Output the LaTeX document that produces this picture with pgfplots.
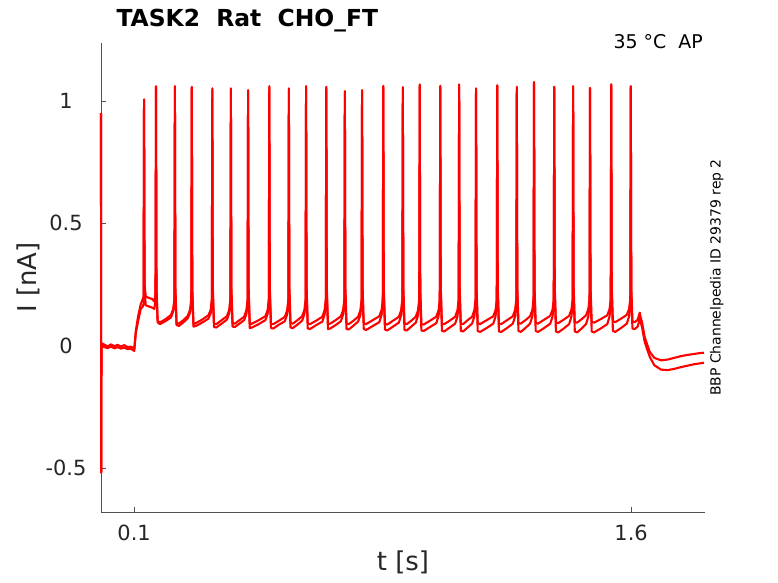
\documentclass[border=0pt]{standalone}
\usepackage{fontspec}
\setmainfont{DejaVu Sans}
\usepackage{pgfplots}
\pgfplotsset{compat=1.18}
\usepackage{pgfplotstable}
\definecolor{axgray}{HTML}{262626}
\pgfplotstableread{
t u l
0.0000 0.95 0.95
0.0006 -0.52 -0.52
0.0016 0.010 0.000
0.0100 0.004 -0.006
0.0200 -0.003 -0.010
0.0300 0.005 -0.004
0.0400 -0.002 -0.011
0.0500 0.003 -0.006
0.0600 -0.004 -0.012
0.0700 0.002 -0.008
0.0800 -0.006 -0.014
0.0900 -0.004 -0.013
0.0990 -0.010 -0.020
0.1005 -0.012 -0.022
0.1050 0.060 0.050
0.1120 0.120 0.100
0.1200 0.170 0.150
0.1260 0.190 0.160
0.1285 0.200 0.170
0.1300 1.007 1.000
0.1315 0.250 0.230
0.1350 0.200 0.165
0.1450 0.195 0.160
0.1550 0.190 0.155
0.1610 0.180 0.150
0.1645 0.210 0.190
0.1660 1.061 1.055
0.1675 0.24 0.22
0.1710 0.100 0.095
0.1780 0.095 0.088
0.1945 0.108 0.100
0.2110 0.125 0.115
0.2180 0.150 0.140
0.2215 0.19 0.18
0.2230 1.061 1.055
0.2245 0.24 0.22
0.2280 0.092 0.085
0.2350 0.090 0.080
0.2485 0.104 0.095
0.2620 0.122 0.112
0.2690 0.148 0.135
0.2725 0.19 0.18
0.2740 1.058 1.05
0.2755 0.24 0.22
0.2790 0.088 0.078
0.2860 0.092 0.080
0.3050 0.106 0.094
0.3240 0.124 0.110
0.3310 0.145 0.132
0.3345 0.19 0.18
0.3360 1.052 1.045
0.3375 0.24 0.22
0.3410 0.090 0.076
0.3480 0.088 0.074
0.3640 0.104 0.090
0.3800 0.120 0.106
0.3870 0.146 0.132
0.3905 0.19 0.18
0.3920 1.052 1.045
0.3935 0.24 0.22
0.3970 0.092 0.078
0.4040 0.090 0.076
0.4180 0.104 0.090
0.4320 0.118 0.104
0.4390 0.145 0.130
0.4425 0.19 0.18
0.4440 1.045 1.04
0.4455 0.24 0.22
0.4490 0.088 0.072
0.4560 0.090 0.074
0.4760 0.104 0.088
0.4960 0.120 0.104
0.5030 0.145 0.130
0.5065 0.19 0.18
0.5080 1.061 1.055
0.5095 0.24 0.22
0.5130 0.090 0.072
0.5200 0.088 0.070
0.5375 0.102 0.086
0.5550 0.118 0.100
0.5620 0.145 0.128
0.5655 0.19 0.18
0.5670 1.052 1.045
0.5685 0.24 0.22
0.5720 0.092 0.074
0.5790 0.090 0.072
0.5930 0.104 0.086
0.6070 0.120 0.102
0.6140 0.146 0.130
0.6175 0.19 0.18
0.6190 1.061 1.055
0.6205 0.24 0.22
0.6240 0.090 0.070
0.6310 0.088 0.068
0.6495 0.102 0.084
0.6680 0.118 0.098
0.6750 0.145 0.128
0.6785 0.19 0.18
0.6800 1.058 1.05
0.6815 0.24 0.22
0.6850 0.088 0.068
0.6920 0.090 0.070
0.7080 0.104 0.084
0.7240 0.120 0.100
0.7310 0.146 0.128
0.7345 0.19 0.18
0.7360 1.041 1.035
0.7375 0.24 0.22
0.7410 0.090 0.068
0.7480 0.088 0.066
0.7620 0.102 0.082
0.7760 0.118 0.098
0.7830 0.145 0.126
0.7865 0.19 0.18
0.7880 1.045 1.04
0.7895 0.24 0.22
0.7930 0.092 0.068
0.8000 0.088 0.064
0.8200 0.104 0.080
0.8400 0.120 0.096
0.8470 0.146 0.126
0.8505 0.19 0.18
0.8520 1.062 1.055
0.8535 0.24 0.22
0.8570 0.090 0.066
0.8640 0.086 0.062
0.8815 0.102 0.078
0.8990 0.118 0.094
0.9060 0.145 0.124
0.9095 0.19 0.18
0.9110 1.057 1.05
0.9125 0.24 0.22
0.9160 0.090 0.064
0.9230 0.088 0.062
0.9365 0.102 0.078
0.9500 0.118 0.094
0.9570 0.144 0.124
0.9605 0.19 0.18
0.9620 1.068 1.06
0.9635 0.24 0.22
0.9670 0.088 0.062
0.9740 0.086 0.060
0.9930 0.102 0.076
1.0120 0.118 0.092
1.0190 0.145 0.122
1.0225 0.19 0.18
1.0240 1.062 1.055
1.0255 0.24 0.22
1.0290 0.090 0.060
1.0360 0.088 0.058
1.0525 0.102 0.074
1.0690 0.118 0.090
1.0760 0.145 0.120
1.0795 0.19 0.18
1.0810 1.068 1.06
1.0825 0.24 0.22
1.0860 0.090 0.060
1.0930 0.088 0.058
1.1065 0.104 0.074
1.1200 0.118 0.090
1.1270 0.145 0.120
1.1305 0.19 0.18
1.1320 1.052 1.045
1.1335 0.24 0.22
1.1370 0.092 0.060
1.1440 0.088 0.056
1.1640 0.104 0.072
1.1840 0.120 0.090
1.1910 0.146 0.120
1.1945 0.19 0.18
1.1960 1.065 1.06
1.1975 0.24 0.22
1.2010 0.090 0.058
1.2080 0.088 0.056
1.2255 0.104 0.072
1.2430 0.120 0.090
1.2500 0.146 0.120
1.2535 0.19 0.18
1.2550 1.058 1.05
1.2565 0.24 0.22
1.2600 0.092 0.060
1.2670 0.090 0.056
1.2810 0.104 0.072
1.2950 0.120 0.090
1.3020 0.146 0.120
1.3055 0.19 0.18
1.3070 1.078 1.07
1.3085 0.24 0.22
1.3120 0.094 0.060
1.3190 0.090 0.056
1.3375 0.106 0.072
1.3560 0.122 0.090
1.3630 0.148 0.120
1.3665 0.19 0.18
1.3680 1.058 1.05
1.3695 0.24 0.22
1.3730 0.094 0.058
1.3800 0.092 0.054
1.3965 0.106 0.070
1.4130 0.122 0.088
1.4200 0.148 0.120
1.4235 0.19 0.18
1.4250 1.061 1.055
1.4265 0.24 0.22
1.4300 0.096 0.058
1.4370 0.094 0.054
1.4505 0.108 0.070
1.4640 0.124 0.088
1.4710 0.150 0.120
1.4745 0.19 0.18
1.4760 1.054 1.05
1.4775 0.24 0.22
1.4810 0.098 0.058
1.4880 0.094 0.054
1.5080 0.108 0.070
1.5280 0.124 0.088
1.5350 0.150 0.120
1.5385 0.19 0.18
1.5400 1.069 1.06
1.5415 0.24 0.22
1.5450 0.100 0.060
1.5520 0.096 0.056
1.5695 0.110 0.072
1.5870 0.126 0.090
1.5940 0.150 0.120
1.5975 0.19 0.18
1.5990 1.061 1.055
1.6005 0.24 0.22
1.6040 0.100 0.070
1.6110 0.096 0.068
1.6200 0.106 0.078
1.6260 0.135 0.110
1.6290 0.115 0.095
1.6330 0.095 0.075
1.6410 0.035 0.015
1.6560 -0.025 -0.045
1.6700 -0.050 -0.080
1.6900 -0.060 -0.098
1.7100 -0.057 -0.100
1.7300 -0.050 -0.095
1.7500 -0.043 -0.088
1.7700 -0.038 -0.082
1.7900 -0.034 -0.076
1.8100 -0.030 -0.072
1.8200 -0.029 -0.070
}\trace

\begin{document}
\begin{tikzpicture}
\useasboundingbox (-101bp,-71bp) rectangle (677bp,512bp);
\begin{axis}[
  at={(0,0)}, anchor=south west,
  scale only axis, width=604bp, height=469bp,
  xmin=0, xmax=1.823, ymin=-0.68, ymax=1.237,
  axis lines*=left,
  axis line style={draw=axgray!80, line width=0.6bp},
  tick align=inside,
  major tick length=5bp,
  tick style={draw=axgray!80, line width=0.6bp},
  xtick={0.1,1.6}, xticklabels={0.1,1.6},
  ytick={-0.5,0,0.5,1}, yticklabels={-0.5,0,0.5,1},
  ticklabel style={font=\fontsize{21}{25}\selectfont, text=axgray},
  yticklabel style={anchor=center, xshift=-35bp},
  xticklabel style={anchor=north, yshift=-9bp},
  xlabel={t [s]}, ylabel={I [nA]},
  label style={font=\fontsize{26}{30}\selectfont, text=axgray},
  xlabel style={at={(axis description cs:0.5,-0.1258)}, anchor=base},
  ylabel style={at={(axis description cs:-0.106,0.5)}, anchor=base},
  clip=false,
]
\addplot[red, line width=2.1bp, line join=round] table[x=t,y=l]{\trace};
\addplot[red, line width=2.1bp, line join=round] table[x=t,y=u]{\trace};
\node[anchor=base west, font=\bfseries\fontsize{23.5}{28}\selectfont, text=black]
  at (axis description cs:0.0199,1.0348) {TASK2\ \ Rat\ \ CHO\_FT};
\node[anchor=base east, font=\fontsize{19}{23}\selectfont, text=black]
  at (axis description cs:1.0022,0.9887) {35 °C\ \ AP};
\node[anchor=base, rotate=90, font=\fontsize{14}{17}\selectfont, text=black]
  at (axis description cs:1.0257,0.5) {BBP Channelpedia ID 29379 rep 2};
\end{axis}
\end{tikzpicture}
\end{document}
